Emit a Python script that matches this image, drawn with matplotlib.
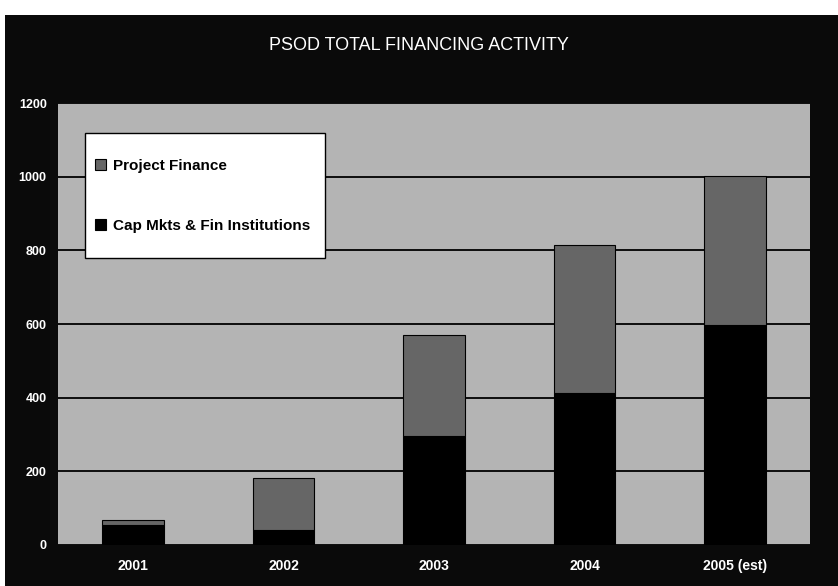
import numpy as np
import matplotlib.pyplot as plt
from matplotlib.patches import Rectangle

plt.rcParams['font.family'] = ['Liberation Sans Narrow', 'Liberation Sans', 'DejaVu Sans']

# data
years = ['2001', '2002', '2003', '2004', '2005 (est)']
cap_mkts = [53, 40, 295, 413, 598]
project_fin = [16, 142, 275, 402, 405]

yticks = [0, 200, 400, 600, 800, 1000, 1200]

fig = plt.figure(figsize=(8.38, 5.86), dpi=100)
fig.patch.set_facecolor('white')

# black scanned frame behind everything
frame = Rectangle((0.006, 0.0), 0.994, 0.975, transform=fig.transFigure,
                  facecolor='#0a0a0a', edgecolor='none')
frame.set_zorder(-10)
fig.add_artist(frame)

ax = fig.add_axes([0.069, 0.070, 0.898, 0.754])
ax.set_zorder(1)
ax.set_facecolor('#b4b4b4')

x = np.arange(len(years))
w = 0.41
ax.bar(x, cap_mkts, w, color='black', edgecolor='black', linewidth=0.8, zorder=3,
       label='Cap Mkts & Fin Institutions')
ax.bar(x, project_fin, w, bottom=cap_mkts, color='#666666', edgecolor='black',
       linewidth=0.8, zorder=3, label='Project Finance')

ax.set_xlim(-0.5, 4.5)
ax.set_ylim(0, 1200)
ax.set_yticks(yticks)
ax.set_yticklabels([str(v) for v in yticks], color='white', fontsize=9, fontweight='bold')
ax.set_xticks(x)
ax.set_xticklabels(years, color='white', fontsize=10, fontweight='bold')
ax.tick_params(axis='both', length=0)
ax.tick_params(axis='x', pad=10)
ax.tick_params(axis='y', pad=8)
ax.yaxis.grid(True, color='black', linewidth=1.3, zorder=1)
ax.set_axisbelow(True)
for s in ax.spines.values():
    s.set_visible(False)

# legend box drawn by hand, entries by the legend (Project Finance first)
box = Rectangle((0.036, 0.649), 0.319, 0.283, transform=ax.transAxes,
                facecolor='white', edgecolor='black', linewidth=1.0, zorder=5)
ax.add_patch(box)
h, l = ax.get_legend_handles_labels()
leg = ax.legend(h[::-1], l[::-1], loc='upper left', bbox_to_anchor=(0.050, 0.874),
                frameon=False, prop={'weight': 'bold', 'size': 11},
                handlelength=0.7, handleheight=0.7, handletextpad=0.45,
                labelspacing=3.0, borderpad=0, borderaxespad=0)
leg.set_zorder(6)

fig.text(0.5, 0.922, 'PSOD TOTAL FINANCING ACTIVITY', color='white', fontsize=13,
         ha='center', va='center')

plt.savefig('out.png', dpi=100)
plt.close()
